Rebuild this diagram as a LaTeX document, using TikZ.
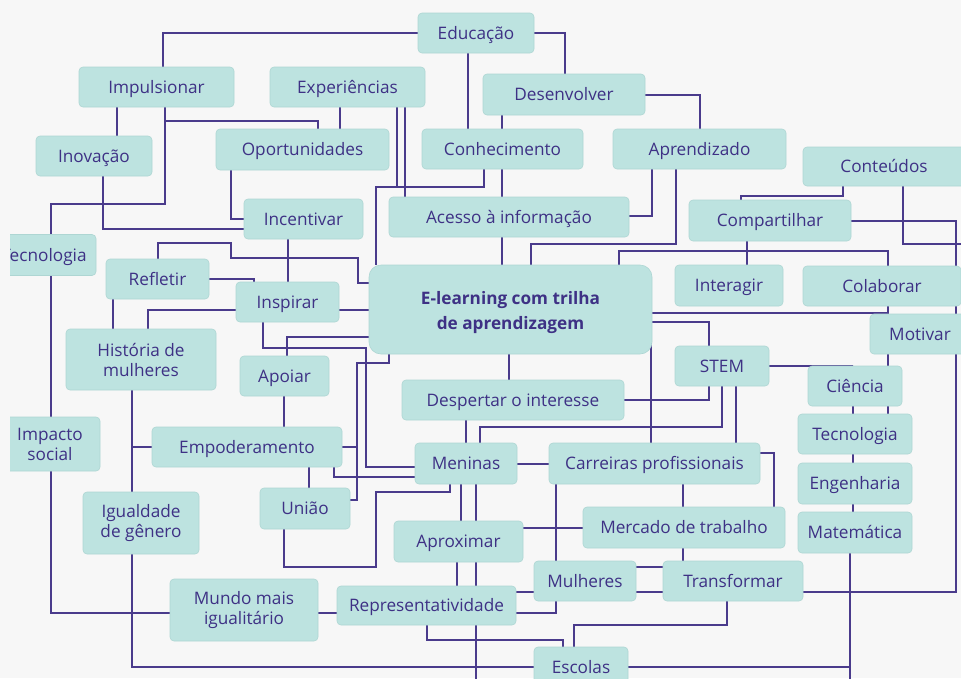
\documentclass[tikz,border=0pt]{standalone}
\usepackage{fontspec}
\setmainfont{Open Sans}
\usetikzlibrary{calc, positioning}

\definecolor{paper}{HTML}{F7F7F7}
\definecolor{boxfill}{HTML}{BDE3E0}
\definecolor{boxedge}{HTML}{AED6D3}
\definecolor{ink}{HTML}{3E3185}
\definecolor{wire}{HTML}{4A3B8C}

\pgfdeclarelayer{bg}
\pgfdeclarelayer{lines}
\pgfsetlayers{bg,lines,main}

\begin{document}
\begin{tikzpicture}[
        x=1pt, y=-1pt,
        font=\fontsize{17.2}{20}\selectfont,
        box/.style={
            fill=boxfill,
            draw=boxedge,
            line width=0.6pt,
            rounded corners=4pt,
            align=center,
            text=ink,
            inner sep=0pt,
            text height=15.4pt,
            text depth=2.6pt,
            minimum height=40pt
        },
        twoline/.style={text height={}, text depth={}},
        hub/.style={
            box, twoline,
            rounded corners=12pt,
            font=\fontsize{17.2}{25}\selectfont\bfseries
        },
        link/.style={draw=wire, line width=2pt}
    ]

    % --- CANVAS ---
    \begin{pgfonlayer}{bg}
    \fill[paper] (0,0) rectangle (961,678);
    \end{pgfonlayer}
    \useasboundingbox (0,0) rectangle (961,678);

    \begin{scope}
    \clip (10,0) rectangle (961,678);

    % --- TOP ---
    \node[box, minimum width=116pt] (educacao) at (476,33) {Educação};
    \node[box, minimum width=155pt] (impulsionar) at (156.5,87) {Impulsionar};
    \node[box, minimum width=155pt] (experiencias) at (347.5,87) {Experiências};
    \node[box, minimum width=162pt, minimum height=41pt] (desenvolver) at (564,94.5) {Desenvolver};
    \node[box, minimum width=116pt] (inovacao) at (94,156) {Inovação};
    \node[box, minimum width=173pt, minimum height=41pt] (oportunidades) at (302.5,149.5) {Oportunidades};
    \node[box, minimum width=161pt] (conhecimento) at (502.5,149) {Conhecimento};
    \node[box, minimum width=173pt] (aprendizado) at (699.5,149) {Aprendizado};
    \node[box, minimum width=162pt, minimum height=39pt] (conteudos) at (884,166.5) {Conteúdos};
    \node[box, minimum width=119pt] (incentivar) at (303.5,219) {Incentivar};
    \node[box, minimum width=240pt] (acesso) at (509,217) {Acesso à informação};
    \node[box, minimum width=162pt, minimum height=41pt] (compartilhar) at (770,220.5) {Compartilhar};

    % --- MIDDLE ---
    \node[box, minimum width=104pt, minimum height=41pt] (tecL) at (44,255) {Tecnologia};
    \node[box, minimum width=103pt] (refletir) at (157.5,279) {Refletir};
    \node[box, minimum width=108pt, minimum height=41pt] (interagir) at (729,285.5) {Interagir};
    \node[box, minimum width=158pt] (colaborar) at (882,286) {Colaborar};
    \node[box, minimum width=103pt] (inspirar) at (287.5,302) {Inspirar};
    \node[hub, minimum width=283pt, minimum height=89pt] (elearn) at (510.5,309.5)
        {\rule{0pt}{20pt}E-learning com trilha\\de aprendizagem};
    \node[box, minimum width=100pt] (motivar) at (920,334) {Motivar};
    \node[box, twoline, minimum width=150pt, minimum height=61pt] (historia) at (141,359.5) {História de\\mulheres};
    \node[box, minimum width=94pt] (stem) at (722,366) {STEM};
    \node[box, minimum width=89pt] (apoiar) at (284.5,376) {Apoiar};
    \node[box, minimum width=94pt] (ciencia) at (855,386) {Ciência};
    \node[box, minimum width=222pt] (despertar) at (513,400) {Despertar o interesse};
    \node[box, minimum width=114pt] (tecR) at (855,434) {Tecnologia};
    \node[box, twoline, minimum width=100pt, minimum height=54pt] (impacto) at (50,444) {Impacto\\social};
    \node[box, minimum width=190pt] (empoderamento) at (247,447) {Empoderamento};

    % --- BOTTOM ---
    \node[box, minimum width=102pt, minimum height=41pt] (meninas) at (466,463.5) {Meninas};
    \node[box, minimum width=211pt, minimum height=41pt] (carreiras) at (654.5,463.5) {Carreiras profissionais};
    \node[box, minimum width=114pt, minimum height=41pt] (engenharia) at (855,483.5) {Engenharia};
    \node[box, twoline, minimum width=116pt, minimum height=62pt] (igualdade) at (141,523) {Igualdade\\de gênero};
    \node[box, minimum width=90pt, minimum height=41pt] (uniao) at (305,508.5) {União};
    \node[box, minimum width=202pt, minimum height=41pt] (mercado) at (684,527.5) {Mercado de trabalho};
    \node[box, minimum width=114pt, minimum height=41pt] (matematica) at (855,532.5) {Matemática};
    \node[box, minimum width=129pt, minimum height=41pt] (aproximar) at (458.5,541.5) {Aproximar};
    \node[box, minimum width=102pt] (mulheres) at (585,581) {Mulheres};
    \node[box, minimum width=140pt] (transformar) at (733,581) {Transformar};
    \node[box, twoline, minimum width=148pt, minimum height=62pt] (mundo) at (244,610) {Mundo mais\\igualitário};
    \node[box, minimum width=179pt, minimum height=39pt] (representatividade) at (426.5,605.5) {Representatividade};
    \node[box, minimum width=94pt] (escolas) at (581,667) {Escolas};
    \end{scope}

    % free ends leaving the frame
    \coordinate (offE) at (975,244);
    \coordinate (offS) at (476,690);
    \coordinate (offM) at (850,690);

    % --- LINKS ---
    \begin{pgfonlayer}{lines}
    \draw[link] (educacao.west) -| (163,0 |- impulsionar.north);
    \draw[link] (468,0 |- educacao.south) -- (468,0 |- conhecimento.north);
    \draw[link] (educacao.east) -| (565,0 |- desenvolver.north);
    \draw[link] (desenvolver.east) -| (700,0 |- aprendizado.north);
    \draw[link] (502,0 |- desenvolver.south) -- (502,0 |- conhecimento.north);
    \draw[link] (502,0 |- conhecimento.south) -- (502,0 |- acesso.north);
    \draw[link] (502,0 |- acesso.south) -- (502,0 |- elearn.north);
    \draw[link] (117,0 |- impulsionar.south) -- (117,0 |- inovacao.north);
    \draw[link] (165,0 |- impulsionar.south) |- (318,121) -- (318,0 |- oportunidades.north);
    \draw[link] (165,0 |- impulsionar.south) |- (51,204) -- (51,0 |- tecL.north);
    \draw[link] (340,0 |- experiencias.south) -- (340,0 |- oportunidades.north);
    \draw[link] (405,0 |- experiencias.south) -- (405,0 |- acesso.north);
    \draw[link] (397,0 |- experiencias.south) |- (376,187) -- (376,0 |- elearn.north);
    \draw[link] (484,0 |- conhecimento.south) |- (376,187);
    \draw[link] (231,0 |- oportunidades.south) |- (incentivar.west);
    \draw[link] (103,0 |- inovacao.south) |- (incentivar.west |- 0,229);
    \draw[link] (288,0 |- incentivar.south) -- (288,0 |- inspirar.north);
    \draw[link] (158,0 |- refletir.north) |- (231,243) |- (358,258) |- (elearn.west |- 0,283);
    \draw[link] (refletir.east) -| (254,0 |- inspirar.north);
    \draw[link] (113,0 |- refletir.south) -- (113,0 |- historia.north);
    \draw[link] (inspirar.west |- 0,310) -| (148,0 |- historia.north);
    \draw[link] (inspirar.east |- 0,310) -- (elearn.west |- 0,310);
    \draw[link] (263,0 |- inspirar.south) |- (366,348) |- (meninas.west |- 0,467);
    \draw[link] (287,0 |- apoiar.north) |- (elearn.west |- 0,337);
    \draw[link] (284,0 |- apoiar.south) -- (284,0 |- empoderamento.north);
    \draw[link] (389,0 |- elearn.south) |- (357,363) |- (uniao.east |- 0,500);
    \draw[link] (empoderamento.east) -- (357,0 |- empoderamento.east);
    \draw[link] (334,0 |- empoderamento.south) |- (meninas.west |- 0,477);
    \draw[link] (309,0 |- empoderamento.south) -- (309,0 |- uniao.north);
    \draw[link] (132,0 |- historia.south) -- (132,0 |- igualdade.north);
    \draw[link] (132,447) -- (empoderamento.west);
    \draw[link] (51,0 |- tecL.south) -- (51,0 |- impacto.north);
    \draw[link] (51,0 |- impacto.south) |- (mundo.west |- 0,613);
    \draw[link] (132,0 |- igualdade.south) |- (escolas.west);
    \draw[link] (mundo.east |- 0,613) -- (representatividade.west |- 0,613);
    \draw[link] (284,0 |- uniao.south) |- (376,567) |- (450,492) -- (450,0 |- meninas.south);
    \draw[link] (461,0 |- meninas.south) -- (461,0 |- aproximar.north);
    \draw[link] (476,0 |- meninas.south) -- (offS);
    \draw[link] (457,0 |- aproximar.south) -- (457,0 |- representatividade.north);
    \draw[link] (466,0 |- meninas.north) -- (466,0 |- despertar.south);
    \draw[link] (480,0 |- meninas.north) |- (722,427) -- (722,0 |- stem.south);
    \draw[link] (meninas.east) -- (carreiras.west);
    \draw[link] (509,0 |- elearn.south) -- (509,0 |- despertar.north);
    \draw[link] (elearn.east |- 0,322) -| (709,0 |- stem.north);
    \draw[link] (elearn.east |- 0,322) -| (651,0 |- carreiras.north);
    \draw[link] (709,0 |- stem.south) |- (despertar.east);
    \draw[link] (736,0 |- stem.south) -- (736,0 |- carreiras.north);
    \draw[link] (stem.east) -| (853,0 |- ciencia.north);
    \draw[link] (747,0 |- compartilhar.south) -- (747,0 |- interagir.north);
    \draw[link] (619,0 |- elearn.north) |- (888,251) -- (888,0 |- colaborar.north);
    \draw[link] (676,0 |- aprendizado.south) |- (531,244) -- (531,0 |- elearn.north);
    \draw[link] (652,0 |- aprendizado.south) |- (acesso.east |- 0,216);
    \draw[link] (843,0 |- conteudos.south) |- (741,196) -- (741,0 |- compartilhar.north);
    \draw[link] (903,0 |- conteudos.south) |- (offE);
    \draw[link] (compartilhar.east) -| (956,592) -- (transformar.east |- 0,592);
    \draw[link] (888,0 |- colaborar.south) |- (elearn.east |- 0,313);
    \draw[link] (888,0 |- motivar.south) -- (888,0 |- tecR.north);
    \draw[link] (853,0 |- ciencia.south) -- (853,0 |- tecR.north);
    \draw[link] (853,0 |- tecR.south) -- (853,0 |- engenharia.north);
    \draw[link] (853,0 |- engenharia.south) -- (853,0 |- matematica.north);
    \draw[link] (850,0 |- matematica.south) -- (offM);
    \draw[link] (escolas.east) -- (850,0 |- escolas.east);
    \draw[link] (carreiras.east |- 0,453) -| (774,0 |- mercado.north);
    \draw[link] (683,0 |- carreiras.south) -- (683,0 |- mercado.north);
    \draw[link] (683,0 |- mercado.south) -- (683,0 |- transformar.north);
    \draw[link] (556,0 |- carreiras.south) -- (556,0 |- mulheres.north);
    \draw[link] (aproximar.east |- 0,528) -- (mercado.west |- 0,528);
    \draw[link] (mulheres.east |- 0,567) -- (transformar.west |- 0,567);
    \draw[link] (representatividade.east |- 0,592) -- (transformar.west |- 0,592);
    \draw[link] (representatividade.east |- 0,613) -| (556,0 |- mulheres.south);
    \draw[link] (427,0 |- representatividade.south) |- (563,640) -- (563,0 |- escolas.north);
    \draw[link] (727,0 |- transformar.south) |- (574,625) -- (574,0 |- escolas.north);
    \end{pgfonlayer}

\end{tikzpicture}
\end{document}
